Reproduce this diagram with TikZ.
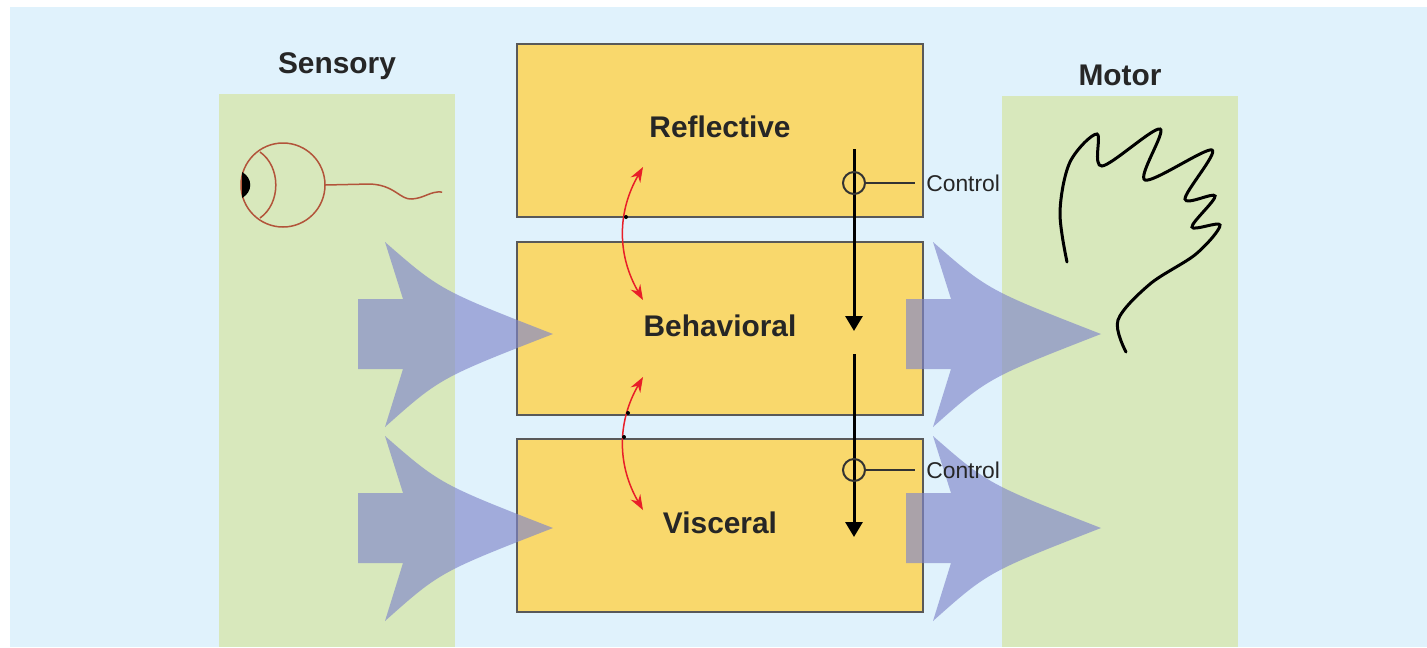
\documentclass[tikz,border=0pt]{standalone}
\usepackage{fontspec}
\setmainfont{Liberation Sans}
\usetikzlibrary{arrows.meta,positioning}

\definecolor{bgblue}{RGB}{224,242,252}
\definecolor{bandgreen}{RGB}{216,232,188}
\definecolor{boxyellow}{RGB}{249,216,108}
\definecolor{flowblue}{RGB}{128,134,202}
\definecolor{eyebrown}{RGB}{178,84,58}
\definecolor{arcred}{RGB}{232,30,40}

\tikzset{
  level/.style={draw=black!65, line width=0.04cm, fill=boxyellow, minimum width=8.12cm,
    minimum height=3.46cm, inner sep=0pt, text=black!85, text depth=0.15cm,
    font=\fontsize{17}{20}\selectfont\bfseries},
  title/.style={text=black!85, font=\fontsize{17}{20}\selectfont\bfseries},
  ring/.style={draw=black!80, circle, line width=0.04cm, minimum size=0.44cm, inner sep=0pt},
  ctrltext/.style={anchor=west, inner sep=0.22cm, text=black!85, font=\fontsize{13}{15}\selectfont},
  ctrlline/.style={line width=0.06cm, -{Triangle[width=0.34cm,length=0.3cm]}},
  twoway/.style={arcred, line width=0.03cm, {Stealth[width=0.22cm,length=0.3cm]}-{Stealth[width=0.22cm,length=0.3cm]}},
  flow/.style={fill=flowblue, fill opacity=0.65}
}

\begin{document}
\begin{tikzpicture}[x=0.02cm, y=-0.02cm]
    \useasboundingbox (0,0) rectangle (1427,647);
    \fill[bgblue] (10,7) rectangle (1427,647);

    % Sensory and motor bands
    \fill[bandgreen] (219,94) rectangle (455,647);
    \fill[bandgreen] (1002,96) rectangle (1238,647);
    \node[title] (sens) at (337,66) {Sensory};
    \node[title] (motor) at (1120,75) {Motor};

    % Eye
    \draw[eyebrown, line width=0.03cm] (283,185) circle[radius=42];
    \draw[eyebrown, line width=0.03cm] (260,152) to[bend left=55] (260,218);
    \fill (242,172) .. controls (253,178) and (253,192) .. (242,198) -- cycle;
    \draw[eyebrown, line width=0.03cm] (325,185) -- (370,184) .. controls (395,185) and (400,200) .. (412,199)
        .. controls (425,198) and (430,191) .. (442,192);

    % Hand
    \draw[line width=0.06cm, line cap=round] plot[smooth, tension=0.55] coordinates {(1067,262) (1060,212)
        (1070,162) (1097,134) (1102,166) (1160,129) (1145,180) (1212,150) (1185,199) (1215,196)
        (1192,227) (1220,225) (1196,254) (1150,284) (1118,320) (1126,352)};

    % Three levels
    \node[level] (refl) at (720,130.5) {Reflective};
    \node[level] (behav) [below=0.47cm of refl] {Behavioral};
    \node[level] (visc) [below=0.44cm of behav] {Visceral};

    % Two-way links between levels
    \coordinate (ra1) at (643,167);
    \coordinate (rb1) at (643,300);
    \coordinate (ra2) at (643,377);
    \coordinate (rb2) at (643,510);
    \draw[twoway] (ra1) to[bend right=30] (rb1);
    \draw[twoway] (ra2) to[bend right=30] (rb2);
    \fill (626,217) circle[radius=2];
    \fill (628,413) circle[radius=2];
    \fill (624,437) circle[radius=2];

    % Control from above
    \coordinate (top1) at (854,149);
    \coordinate (end1) at (854,331);
    \coordinate (top2) at (854,354);
    \coordinate (end2) at (854,537);
    \draw[ctrlline] (top1) -- (end1);
    \draw[ctrlline] (top2) -- (end2);
    \node[ring] (ring1) at (854,183) {};
    \node[ring] (ring2) at (854,470) {};

    % Big flow arrows
    \foreach \x/\y in {358/334, 358/528, 906/334, 906/528}
        \fill[flow] (\x,\y-35) -- (\x+45,\y-35) -- (\x+27,\y-92) .. controls (\x+82,\y-44) .. (\x+195,\y)
            .. controls (\x+82,\y+44) .. (\x+27,\y+93) -- (\x+45,\y+35) -- (\x,\y+35) -- cycle;

    \node[ctrltext] (ctl1) at (915,183) {Control};
    \node[ctrltext] (ctl2) at (915,470) {Control};
    \draw[line width=0.03cm, black!80] (ring1.east) -- (ctl1.west);
    \draw[line width=0.03cm, black!80] (ring2.east) -- (ctl2.west);
\end{tikzpicture}
\end{document}
